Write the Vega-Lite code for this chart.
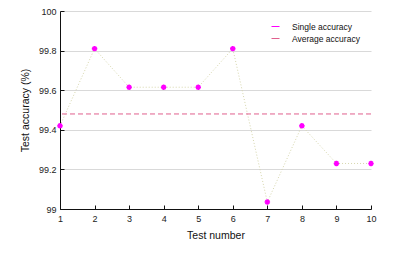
{
  "$schema": "https://vega.github.io/schema/vega-lite/v6.json",
  "width": 311,
  "height": 198,
  "autosize": {"type": "none"},
  "padding": {"left": 60, "top": 11, "right": 43, "bottom": 48},
  "background": "white",
  "config": {
    "font": "Liberation Sans",
    "view": {"stroke": null},
    "axis": {
      "labelFont": "Liberation Sans",
      "titleFont": "Liberation Sans",
      "labelFontSize": 9,
      "titleFontSize": 10.5,
      "titleFontWeight": "normal",
      "labelColor": "#222",
      "titleColor": "#111",
      "domainColor": "#111",
      "tickColor": "#111"
    }
  },
  "datasets": {
    "tests": [
      {"test": 1, "acc": 99.42, "series": "Single accuracy"},
      {"test": 2, "acc": 99.81, "series": "Single accuracy"},
      {"test": 3, "acc": 99.615, "series": "Single accuracy"},
      {"test": 4, "acc": 99.615, "series": "Single accuracy"},
      {"test": 5, "acc": 99.615, "series": "Single accuracy"},
      {"test": 6, "acc": 99.81, "series": "Single accuracy"},
      {"test": 7, "acc": 99.035, "series": "Single accuracy"},
      {"test": 8, "acc": 99.42, "series": "Single accuracy"},
      {"test": 9, "acc": 99.23, "series": "Single accuracy"},
      {"test": 10, "acc": 99.23, "series": "Single accuracy"}
    ],
    "avg": [
      {"acc": 99.48, "series": "Average accuracy"}
    ]
  },
  "layer": [
    {
      "data": {"name": "tests"},
      "mark": {"type": "line", "strokeDash": [1, 2], "strokeWidth": 1, "stroke": "#d6d6ac"},
      "encoding": {
        "x": {
          "field": "test", "type": "quantitative",
          "scale": {"domain": [1, 10], "nice": false, "zero": false},
          "axis": {
            "title": "Test number",
            "values": [1, 2, 3, 4, 5, 6, 7, 8, 9, 10],
            "tickCount": 20,
            "format": "d",
            "grid": false,
            "tickSize": -4,
            "labelPadding": 9,
            "titlePadding": 7,
            "labelFlush": false,
            "labelOverlap": false
          }
        },
        "y": {
          "field": "acc", "type": "quantitative",
          "scale": {"domain": [99, 100], "nice": false, "zero": false},
          "axis": {
            "title": "Test accuracy (%)",
            "values": [99, 99.2, 99.4, 99.6, 99.8, 100],
            "tickCount": 20,
            "format": "~g",
            "grid": true,
            "gridColor": "#d9d9d9",
            "gridWidth": 1,
            "tickSize": -4,
            "labelPadding": 8,
            "titlePadding": 8,
            "labelFlush": false,
            "labelOverlap": false
          }
        }
      }
    },
    {
      "data": {"name": "avg"},
      "mark": {"type": "rule", "strokeDash": [5, 3], "strokeWidth": 1},
      "encoding": {
        "y": {"field": "acc", "type": "quantitative"},
        "stroke": {"field": "series", "type": "nominal"}
      }
    },
    {
      "data": {"name": "tests"},
      "mark": {
        "type": "point",
        "shape": "M-1,0L1,0M0,-1L0,1M-0.7,-0.7L0.7,0.7M-0.7,0.7L0.7,-0.7",
        "filled": false,
        "strokeWidth": 1.6,
        "size": 30,
        "opacity": 1
      },
      "encoding": {
        "x": {"field": "test", "type": "quantitative"},
        "y": {"field": "acc", "type": "quantitative"},
        "stroke": {
          "field": "series", "type": "nominal",
          "scale": {"domain": ["Single accuracy", "Average accuracy"], "range": ["#ff00ff", "#e0608e"]},
          "legend": {
            "title": null,
            "orient": "none",
            "legendX": 211,
            "legendY": 11,
            "symbolSize": 64,
            "labelFontSize": 8.5,
            "labelFont": "Liberation Sans",
            "labelColor": "#111",
            "labelOffset": 12,
            "rowPadding": 3,
            "symbolStrokeWidth": 1,
            "symbolOpacity": 1,
            "encode": {
              "symbols": {
                "update": {
                  "shape": {"signal": "datum.value === 'Single accuracy' ? 'M-0.75,0L0.75,0M0,-0.75L0,0.75M-0.53,-0.53L0.53,0.53M-0.53,0.53L0.53,-0.53' : 'M-3.7,0L3.5,0'"},
                  "strokeWidth": {"signal": "datum.value === 'Single accuracy' ? 1.8 : 1"},
                  "strokeDash": {"signal": "datum.value === 'Single accuracy' ? [1, 0] : [5, 3]"},
                  "fill": {"value": "transparent"}
                }
              }
            }
          }
        }
      }
    }
  ]
}
